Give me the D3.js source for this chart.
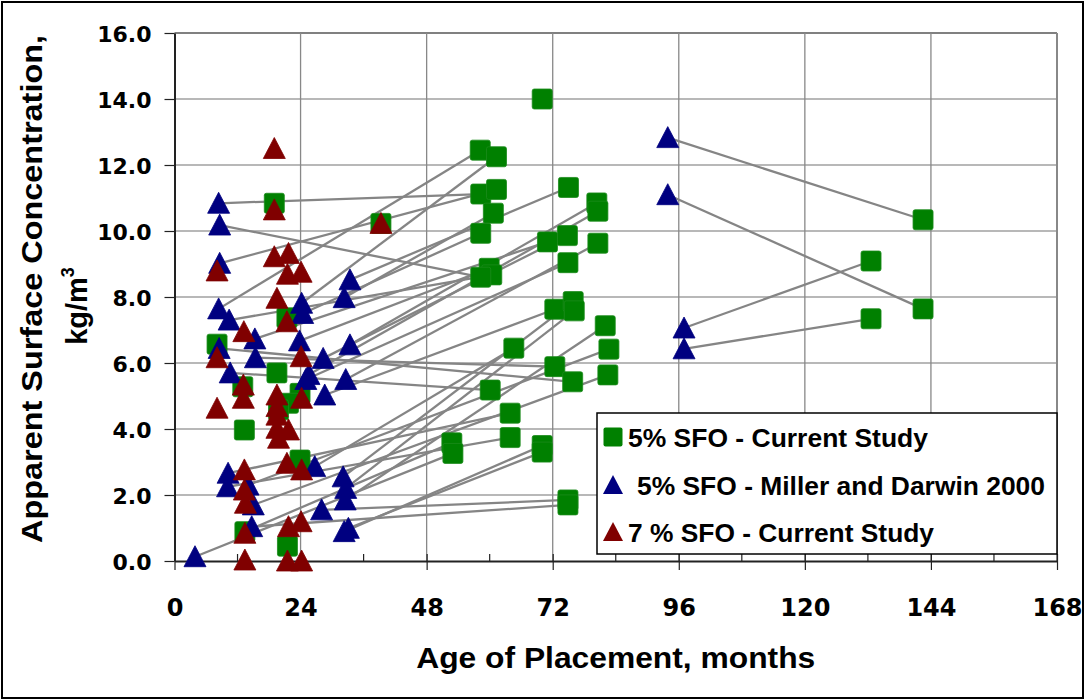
<!DOCTYPE html>
<html>
<head>
<meta charset="utf-8">
<script src="https://cdn.jsdelivr.net/npm/d3@7"></script>
<style>
  html, body { margin: 0; padding: 0; background: #fff; }
  svg { display: block; }
</style>
</head>
<body>
<svg id="chart" width="1085" height="700"></svg>
<script>
// Axis ticks
const monthTicks = [0, 24, 48, 72, 96, 120, 144, 168];
const monthMinorTicks = [12, 36, 60, 84, 108, 132, 156];
const concTicks = [0, 2, 4, 6, 8, 10, 12, 14, 16];

// 5% SFO - Current Study  [age (months), concentration (kg/m3)]
const sfo5Current = [
  [70.0, 14.0], [58.2, 12.45], [61.3, 12.25], [58.3, 11.12], [61.3, 11.26],
  [60.7, 10.54], [58.3, 9.93], [75.0, 11.32], [80.4, 10.85], [80.6, 10.6],
  [71.0, 9.67], [74.8, 9.86], [80.6, 9.63], [74.9, 9.04], [59.9, 8.87],
  [60.4, 8.67], [58.3, 8.6], [72.4, 7.63], [75.9, 7.86], [76.1, 7.58],
  [82.0, 7.13], [82.7, 6.42], [82.5, 5.64], [64.6, 6.45], [72.4, 5.89],
  [75.8, 5.43], [60.1, 5.18], [63.9, 4.48], [63.9, 3.74], [52.8, 3.58],
  [53.0, 3.26], [70.0, 3.5], [70.0, 3.3], [74.9, 1.85], [74.9, 1.7],
  [142.5, 10.34], [132.6, 9.09], [142.5, 7.64], [132.6, 7.34],
  [19.0, 10.84], [39.3, 10.23], [8.1, 6.57], [21.4, 7.37], [19.5, 5.7],
  [13.0, 5.28], [23.9, 5.08], [21.7, 4.78], [19.8, 4.58], [13.3, 3.97],
  [23.9, 3.06], [13.4, 0.89], [21.5, 0.45]
];

// 5% SFO - Miller and Darwin 2000
const sfo5Miller = [
  [8.4, 10.84], [8.6, 10.18], [8.6, 9.02], [8.4, 7.64], [10.4, 7.3],
  [24.2, 7.81], [24.4, 7.5], [15.3, 6.73], [23.8, 6.67], [8.5, 6.44],
  [15.4, 6.16], [10.6, 5.7], [33.4, 8.52], [32.3, 7.98], [33.4, 6.55],
  [28.3, 6.14], [25.6, 5.65], [25.0, 5.5], [32.6, 5.5], [28.6, 5.03],
  [26.7, 2.86], [32.1, 2.55], [32.6, 2.2], [32.5, 1.85], [28.0, 1.55],
  [33.1, 0.99], [32.3, 0.89], [10.2, 2.66], [10.1, 2.25], [14.0, 2.3],
  [15.0, 1.7], [14.7, 1.04], [3.9, 0.13],
  [93.9, 12.83], [93.9, 11.1], [97.0, 7.06], [97.0, 6.43]
];

// 7 % SFO - Current Study
const sfo7Current = [
  [8.1, 8.79], [19.0, 10.64], [19.0, 12.5], [19.0, 9.22], [21.7, 9.32],
  [21.5, 8.69], [24.1, 8.75], [19.5, 7.96], [21.4, 7.25], [13.2, 6.95],
  [8.1, 6.16], [24.1, 6.19], [13.1, 5.33], [13.1, 4.93], [8.1, 4.63],
  [19.5, 5.03], [24.2, 4.93], [19.5, 4.68], [19.5, 4.42], [21.7, 3.97],
  [19.5, 4.02], [19.8, 3.72], [21.4, 2.96], [24.2, 2.76], [13.3, 2.76],
  [13.3, 2.15], [13.5, 1.75], [13.4, 0.84], [21.7, 1.04], [24.1, 1.19],
  [21.5, 0.0], [24.2, 0.0], [13.4, 0.03], [39.3, 10.23]
];

// Same structure measured twice: [earlier series, earlier index, later index in sfo5Current]
const links = [
  ["m", 0, 3], ["m", 1, 16], ["m", 2, 4], ["m", 3, 1], ["m", 4, 15],
  ["m", 5, 2], ["m", 6, 6], ["m", 8, 14], ["m", 12, 7], ["m", 13, 5],
  ["m", 7, 10], ["m", 9, 25], ["m", 10, 24], ["m", 11, 26], ["m", 14, 8],
  ["m", 15, 11], ["m", 16, 9], ["m", 17, 13], ["m", 18, 12], ["m", 19, 17],
  ["m", 20, 23], ["m", 21, 18], ["m", 22, 19], ["m", 23, 20], ["m", 24, 33],
  ["m", 25, 32], ["m", 26, 31], ["m", 30, 22], ["m", 29, 21], ["m", 27, 27],
  ["m", 28, 28], ["m", 31, 34], ["m", 32, 30],
  ["m", 33, 35], ["m", 34, 37], ["m", 35, 36], ["m", 36, 38],
  ["c", 50, 29]
];

const legendItems = [
  { label: "5% SFO - Current Study", shape: "square", color: "#008000", len: 300, dx: 0 },
  { label: "5% SFO - Miller and Darwin 2000", shape: "triangle", color: "#000080", len: 408, dx: 9 },
  { label: "7 % SFO - Current Study", shape: "triangle", color: "#800000", len: 306, dx: 0 }
];

const svg = d3.select("#chart");
const W = 1085, H = 700;
const plot = { left: 174.5, right: 1057, top: 33, bottom: 561 };

const x = d3.scaleLinear().domain([0, 168]).range([plot.left, plot.right]);
const y = d3.scaleLinear().domain([0, 16]).range([plot.bottom, plot.top]);

// outer frame
svg.append("rect").attr("x", 2).attr("y", 2).attr("width", W - 4).attr("height", H - 4)
  .attr("fill", "#fff").attr("stroke", "#000").attr("stroke-width", 2);

// grid
const grid = svg.append("g");
grid.selectAll("line.h").data(concTicks.filter(d => d > 0)).join("line")
  .attr("x1", plot.left).attr("x2", plot.right)
  .attr("y1", d => y(d)).attr("y2", d => y(d))
  .attr("stroke", d => d === 16 ? "#808080" : "#a0a0a0")
  .attr("stroke-width", d => d === 16 ? 2 : 1.5);
grid.selectAll("line.v").data(monthTicks.filter(d => d > 0)).join("line")
  .attr("x1", d => x(d)).attr("x2", d => x(d))
  .attr("y1", plot.top).attr("y2", plot.bottom)
  .attr("stroke", "#888")
  .attr("stroke-width", d => d === 168 ? 2 : 1.3);

const font = "'Liberation Sans', Arial, sans-serif";
const tickFont = "'DejaVu Sans', Verdana, sans-serif";

// x axis (major ticks cross the axis line, minor ticks sit inside)
const xAxis = svg.append("g").attr("transform", `translate(0,${plot.bottom})`)
  .call(d3.axisBottom(x).tickValues(monthTicks).tickSizeInner(9).tickSizeOuter(0).tickPadding(33));
xAxis.select(".domain").attr("stroke", "#222").attr("stroke-width", 2);
xAxis.selectAll(".tick line").attr("stroke", "#222").attr("stroke-width", 1.2).attr("y1", -7);
xAxis.selectAll(".tick text").attr("font-family", tickFont).attr("font-weight", "bold")
  .attr("font-size", 24).attr("fill", "#000").attr("dy", 0).attr("y", 55);
svg.append("g").selectAll("line").data(monthMinorTicks).join("line")
  .attr("x1", d => x(d)).attr("x2", d => x(d))
  .attr("y1", plot.bottom - 7).attr("y2", plot.bottom)
  .attr("stroke", "#222").attr("stroke-width", 1.2);

// y axis
const yAxis = svg.append("g").attr("transform", `translate(${plot.left},0)`)
  .call(d3.axisLeft(y).tickValues(concTicks).tickFormat(d3.format(".1f"))
    .tickSizeInner(10).tickSizeOuter(0).tickPadding(13));
yAxis.select(".domain").attr("stroke", "#222").attr("stroke-width", 2);
yAxis.selectAll(".tick line").attr("stroke", "#222").attr("stroke-width", 1.2);
yAxis.selectAll(".tick text").attr("font-family", tickFont).attr("font-weight", "bold")
  .attr("font-size", 22).attr("fill", "#000").attr("dy", "0.37em");

// connecting lines
const lookup = { m: sfo5Miller, c: sfo5Current };
svg.append("g").selectAll("line").data(links).join("line")
  .attr("x1", d => x(lookup[d[0]][d[1]][0]))
  .attr("y1", d => y(lookup[d[0]][d[1]][1]))
  .attr("x2", d => x(sfo5Current[d[2]][0]))
  .attr("y2", d => y(sfo5Current[d[2]][1]))
  .attr("stroke", "#858585").attr("stroke-width", 2.3);

// markers
const S = 20;
const triPath = `M0,${-S / 2 - 1}L${S / 2 + 1},${S / 2}L${-S / 2 - 1},${S / 2}Z`;

svg.append("g").selectAll("rect").data(sfo5Current).join("rect")
  .attr("x", d => x(d[0]) - S / 2).attr("y", d => y(d[1]) - S / 2)
  .attr("width", S).attr("height", S).attr("rx", 2)
  .attr("fill", "#008000").attr("stroke", "#1a8a1a").attr("stroke-width", 0.8);

svg.append("g").selectAll("path").data(sfo5Miller).join("path")
  .attr("transform", d => `translate(${x(d[0])},${y(d[1])})`)
  .attr("d", triPath).attr("fill", "#000080").attr("stroke", "#000080")
  .attr("stroke-width", 0.8).attr("stroke-linejoin", "round");

svg.append("g").selectAll("path").data(sfo7Current).join("path")
  .attr("transform", d => `translate(${x(d[0])},${y(d[1])})`)
  .attr("d", triPath).attr("fill", "#800000").attr("stroke", "#800000")
  .attr("stroke-width", 0.8).attr("stroke-linejoin", "round");

// legend
const lg = svg.append("g");
lg.append("rect").attr("x", 597).attr("y", 413).attr("width", 460).attr("height", 141)
  .attr("fill", "#fff").attr("stroke", "#000").attr("stroke-width", 1.5);
const rowY = [437, 485, 532];
legendItems.forEach((it, i) => {
  const cy = rowY[i];
  if (it.shape === "square") {
    lg.append("rect").attr("x", 613 - 9.5).attr("y", cy - 9.5).attr("width", 19).attr("height", 19)
      .attr("rx", 2).attr("fill", it.color);
  } else {
    lg.append("path").attr("transform", `translate(613,${cy})`)
      .attr("d", "M0,-10L10,9L-10,9Z").attr("fill", it.color);
  }
  lg.append("text").attr("x", 628 + it.dx).attr("y", cy + 9.5)
    .attr("font-family", font).attr("font-weight", "bold").attr("font-size", 26)
    .attr("textLength", it.len).attr("lengthAdjust", "spacingAndGlyphs")
    .text(it.label);
});

// axis titles
svg.append("text").attr("x", (plot.left + plot.right) / 2).attr("y", 668)
  .attr("text-anchor", "middle").attr("font-family", font).attr("font-weight", "bold")
  .attr("font-size", 30).attr("textLength", 399).attr("lengthAdjust", "spacingAndGlyphs")
  .text("Age of Placement, months");

svg.append("text").attr("transform", "translate(42,289) rotate(-90)")
  .attr("text-anchor", "middle").attr("font-family", font).attr("font-weight", "bold")
  .attr("font-size", 29).attr("textLength", 508).attr("lengthAdjust", "spacingAndGlyphs")
  .text("Apparent Surface Concentration,");

const unit = svg.append("text").attr("transform", "translate(87,306) rotate(-90)")
  .attr("text-anchor", "middle").attr("font-family", font).attr("font-weight", "bold")
  .attr("font-size", 29);
unit.append("tspan").text("kg/m");
unit.append("tspan").attr("font-size", 18).attr("dy", -13).text("3");
</script>
</body>
</html>
